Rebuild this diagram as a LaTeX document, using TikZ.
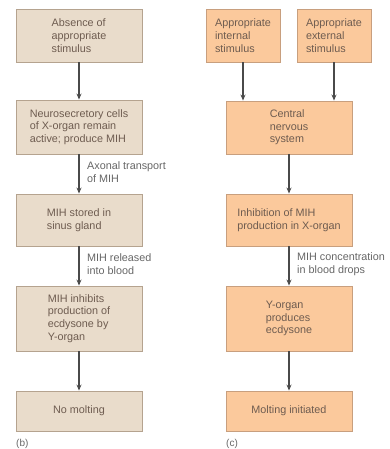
\documentclass[tikz,border=0pt]{standalone}
\usepackage{fontspec}
\setmainfont{Liberation Sans}
\usetikzlibrary{arrows.meta}
\definecolor{beigefill}{HTML}{E9DCCB}
\definecolor{beigeline}{HTML}{B5A38F}
\definecolor{orangefill}{HTML}{FBC99C}
\definecolor{orangeline}{HTML}{C89F7E}
\definecolor{boxtext}{HTML}{6E5C50}
\definecolor{lbltext}{HTML}{666666}
\definecolor{arrowcol}{HTML}{4A4A4A}
\tikzset{
  basebox/.style={draw, line width=0.9pt, inner sep=0pt, align=left,
    text=boxtext, font=\fontsize{10.8}{12.7}\selectfont},
  lbox/.style={basebox, fill=beigefill, draw=beigeline},
  rbox/.style={basebox, fill=orangefill, draw=orangeline},
  flow/.style={draw=arrowcol, line width=1.3pt, -{Stealth[length=6pt,width=5pt]}},
  lbl/.style={anchor=west, inner sep=0pt, align=left, text=lbltext,
    font=\fontsize{10.8}{12.5}\selectfont},
  panel/.style={anchor=west, inner sep=0pt, text=lbltext, font=\fontsize{10}{12}\selectfont}
}
\begin{document}
\begin{tikzpicture}[x=1pt,y=-1pt]
\useasboundingbox (0,0) rectangle (389,449);
% left column (b)
\node[lbox, minimum width=126pt, minimum height=53pt] (b1) at (79,35.5) {Absence of\\appropriate\\stimulus};
\node[lbox, minimum width=126pt, minimum height=54pt] (b2) at (79,127) {Neurosecretory cells\\of X-organ remain\\active; produce MIH};
\node[lbox, minimum width=126pt, minimum height=52pt] (b3) at (79,220) {MIH stored in\\sinus gland};
\node[lbox, minimum width=126pt, minimum height=65pt] (b4) at (79,318.5) {MIH inhibits\\production of\\ecdysone by\\Y-organ};
\node[lbox, minimum width=126pt, minimum height=40pt] (b5) at (79,411) {No molting};
\draw[flow] (b1) -- (b2);
\draw[flow] (b2) -- (b3);
\draw[flow] (b3) -- (b4);
\draw[flow] (b4) -- (b5);
\node[lbl] (lb2) at (87,172) {Axonal transport\\of MIH};
\node[lbl] (lb3) at (87,264) {MIH released\\into blood};
\node[panel] (pb) at (16,444) {(b)};
% right column (c)
\node[rbox, minimum width=74pt, minimum height=53pt] (ca) at (243,35.5) {Appropriate\\internal\\stimulus};
\node[rbox, minimum width=74pt, minimum height=53pt] (cb) at (334,35.5) {Appropriate\\external\\stimulus};
\node[rbox, minimum width=126pt, minimum height=53pt] (c2) at (289,127.5) {Central\\nervous\\system};
\node[rbox, minimum width=126pt, minimum height=52pt] (c3) at (289,220) {Inhibition of MIH\\production in X-organ};
\node[rbox, minimum width=126pt, minimum height=65pt] (c4) at (289,318.5) {Y-organ\\produces\\ecdysone};
\node[rbox, minimum width=126pt, minimum height=40pt] (c5) at (289,411) {Molting initiated};
\draw[flow] (ca) -- (ca |- c2.north);
\draw[flow] (cb) -- (cb |- c2.north);
\draw[flow] (c2) -- (c3);
\draw[flow] (c3) -- (c4);
\draw[flow] (c4) -- (c5);
\node[lbl] (lc3) at (297,264) {MIH concentration\\in blood drops};
\node[panel] (pc) at (226,444) {(c)};
\end{tikzpicture}
\end{document}
